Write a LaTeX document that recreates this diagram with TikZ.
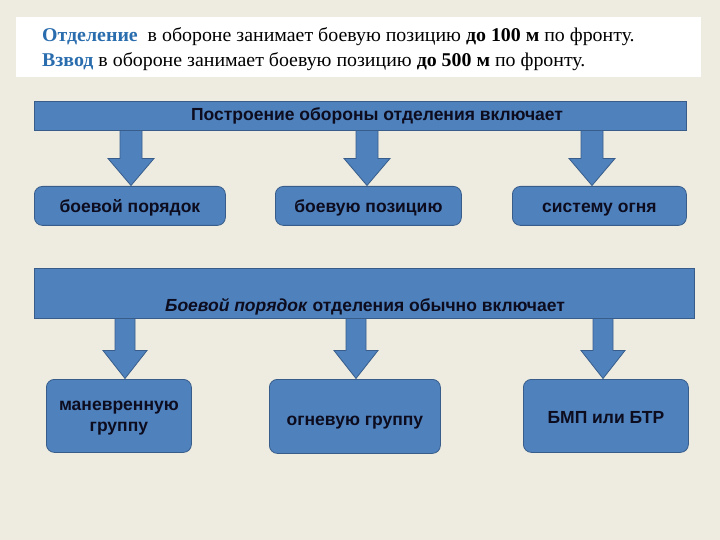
\documentclass[tikz,border=0pt]{standalone}
\usepackage{fontspec}
\setmainfont{Liberation Serif}
\setsansfont{Liberation Sans}
\usetikzlibrary{calc}
\definecolor{bg}{HTML}{EEECE1}
\definecolor{fillblue}{HTML}{4F81BD}
\definecolor{edgeblue}{HTML}{385D8A}
\definecolor{textblue}{HTML}{2A6DAE}
\definecolor{ink}{HTML}{0C0C1E}
\tikzset{
  bar/.style={draw=edgeblue, fill=fillblue, line width=0.8pt, inner sep=0pt},
  box/.style={draw=edgeblue, fill=fillblue, line width=0.8pt, rounded corners=8pt, inner sep=0pt},
  lbl/.style={font=\sffamily\bfseries\fontsize{17.5}{21}\selectfont, inner sep=0pt, text=ink, anchor=base},
  fat/.style={draw=edgeblue, fill=fillblue, line width=0.8pt, line join=miter},
  hdrtext/.style={anchor=base west, inner sep=0pt, font=\fontsize{19.5}{24}\selectfont},
}
% #1 name prefix, #2 x centre, #3 top y, #4 tip y, #5 half shaft, #6 half head, #7 head height
\newcommand\fatdown[7]{%
  \coordinate (#1t) at (#2,#3);
  \coordinate (#1p) at (#2,#4);
  \draw[fat] ($(#1t)+(-#5,0)$) -- ($(#1t)+(#5,0)$) -- ($(#1p)+(#5,-#7)$) -- ($(#1p)+(#6,-#7)$)
    -- (#1p) -- ($(#1p)+(-#6,-#7)$) -- ($(#1p)+(-#5,-#7)$) -- cycle;}
\begin{document}
\begin{tikzpicture}[x=1pt,y=-1pt]
\useasboundingbox (0,0) rectangle (720,540);
\fill[bg] (0,0) rectangle (720,540);
% header
\node[fill=white, minimum width=685pt, minimum height=60pt, inner sep=0pt, anchor=north west] (hdr) at (16,17) {};
\node[hdrtext] (l1) at (42,41.3)
  {\scalebox{1.02}[1]{\textcolor{textblue}{\textbf{Отделение}}\ \ в обороне занимает боевую позицию \textbf{до 100 м} по фронту.}};
\node[hdrtext] (l2) at (42,66.3)
  {\scalebox{1.02}[1]{\textcolor{textblue}{\textbf{Взвод}} в обороне занимает боевую позицию \textbf{до 500 м} по фронту.}};
% first bar
\node[bar, minimum width=652pt, minimum height=29pt, anchor=north west] (bar1) at (34,101) {};
\node[lbl] (bar1t) at (377,121) {Построение обороны отделения включает};
\node[box, minimum width=191pt, minimum height=39pt, anchor=north west] (b1) at (34,186) {};
\node[box, minimum width=186pt, minimum height=39pt, anchor=north west] (b2) at (275,186) {};
\node[box, minimum width=174pt, minimum height=39pt, anchor=north west] (b3) at (512,186) {};
\node[lbl] (b1t) at ($(b1.center)+(0,6.8)$) {боевой порядок};
\node[lbl] (b2t) at ($(b2.center)+(0,6.8)$) {боевую позицию};
\node[lbl] (b3t) at ($(b3.center)+(0,6.8)$) {систему огня};
\fatdown{a1}{131}{130.5}{185.5}{11}{23}{27}
\fatdown{a2}{367}{130.5}{185.5}{11}{23}{27}
\fatdown{a3}{592}{130.5}{185.5}{11}{23}{27}
% second bar
\node[bar, minimum width=660pt, minimum height=50pt, anchor=north west] (bar2) at (34,268) {};
\node[lbl] (bar2t) at (365,311) {\textit{Боевой порядок} отделения обычно включает};
\node[box, minimum width=145pt, minimum height=73pt, anchor=north west] (c1) at (46,379) {};
\node[box, minimum width=171pt, minimum height=74pt, anchor=north west] (c2) at (269,379) {};
\node[box, minimum width=165pt, minimum height=73pt, anchor=north west] (c3) at (523,379) {};
\node[lbl] (c1t) at (c1.center |- 0,410.7)
  {\setlength\tabcolsep{0pt}\begin{tabular}[t]{c}маневренную\\группу\end{tabular}};
\node[lbl] (c2t) at (c2.center |- 0,425) {огневую группу};
\node[lbl] (c3t) at (c3.center |- 0,423) {БМП или БТР};
\fatdown{d1}{125}{318.5}{378.5}{10}{22}{28}
\fatdown{d2}{356}{318.5}{378.5}{10}{22}{28}
\fatdown{d3}{603}{318.5}{378.5}{10}{22}{28}
\end{tikzpicture}
\end{document}
